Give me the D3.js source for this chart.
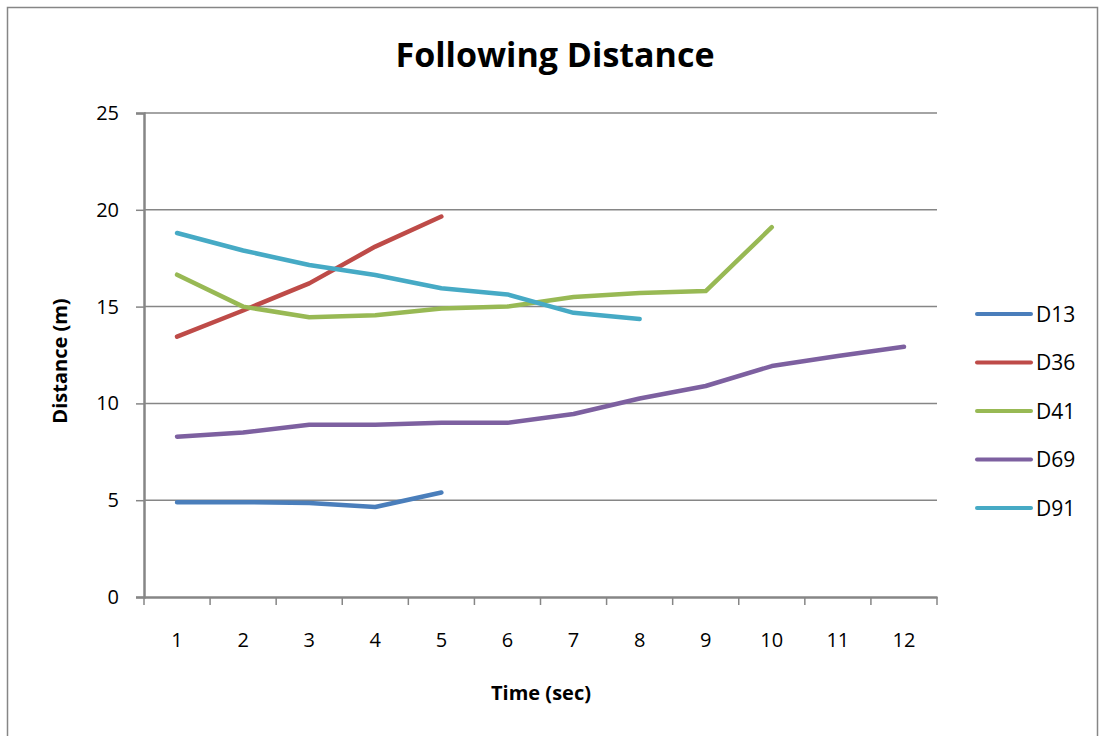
<!DOCTYPE html>
<html><head><meta charset="utf-8">
<script src="https://cdn.jsdelivr.net/npm/d3@7"></script>
<style>body{margin:0;background:#fff;} text{font-family:"Open Sans","Liberation Sans",sans-serif;}</style>
</head><body><svg id="c" width="1100" height="736"></svg>
<script>
const categories = ["1","2","3","4","5","6","7","8","9","10","11","12"];
const seriesNames = ["D13","D36","D41","D69","D91"];
const colors = ["#4a7ebb","#be4b48","#98b954","#7d60a0","#46aac5"];
const D13 = [4.9, 4.9, 4.85, 4.65, 5.4];
const D36 = [13.45, 14.8, 16.2, 18.1, 19.65];
const D41 = [16.65, 15.0, 14.45, 14.55, 14.9, 15.0, 15.5, 15.7, 15.8, 19.1];
const D69 = [8.28, 8.5, 8.9, 8.9, 9.0, 9.0, 9.45, 10.25, 10.9, 11.93, 12.45, 12.93];
const D91 = [18.8, 17.9, 17.15, 16.63, 15.95, 15.63, 14.68, 14.36];
const yTicks = [0, 5, 10, 15, 20, 25];
const seriesValues = [D13, D36, D41, D69, D91];

const svg = d3.select("#c");
const L = 144, R = 937, T = 113, B = 597;
const grey = "#868686";
const FF = '"Open Sans","Liberation Sans",sans-serif';

svg.append("rect").attr("x",7.5).attr("y",7.5).attr("width",1090).attr("height",740)
  .attr("fill","none").attr("stroke",grey).attr("stroke-width",1.5);

const x = d3.scaleBand().domain(categories).range([L, R]);
const y = d3.scaleLinear().domain([0, 25]).range([B, T]);

// gridlines
svg.append("g").selectAll("line").data(yTicks.filter(d=>d>0)).join("line")
  .attr("x1", L).attr("x2", R).attr("y1", d=>y(d)).attr("y2", d=>y(d))
  .attr("stroke", grey).attr("stroke-width", 1.5);

// y axis
const ya = svg.append("g").attr("transform",`translate(${L},0)`)
  .call(d3.axisLeft(y).tickValues(yTicks).tickSize(8).tickPadding(17));
ya.select(".domain").attr("stroke",grey).attr("stroke-width",2.5);
ya.selectAll(".tick line").attr("stroke",grey).attr("stroke-width",1.5);
ya.selectAll("text").attr("font-size",20).attr("fill","#000").style("font-family",FF);

// x axis
const xa = svg.append("g").attr("transform",`translate(0,${B})`)
  .call(d3.axisBottom(x).tickSize(0).tickPadding(36));
xa.select(".domain").attr("stroke",grey).attr("stroke-width",2.5);
xa.selectAll("text").attr("font-size",20).attr("fill","#000").style("font-family",FF);
// category boundary ticks
const bounds = categories.map(c=>x(c)).concat([R]);
svg.append("g").selectAll("line").data(bounds).join("line")
  .attr("x1",d=>d).attr("x2",d=>d).attr("y1",B).attr("y2",B+8)
  .attr("stroke",grey).attr("stroke-width",1.5);

// lines
const line = d3.line().x((d,i)=>x(categories[i]) + x.bandwidth()/2).y(d=>y(d));
svg.append("g").selectAll("path").data(seriesValues).join("path")
  .attr("d", d=>line(d)).attr("fill","none")
  .attr("stroke",(d,i)=>colors[i]).attr("stroke-width",4.5)
  .attr("stroke-linecap","round").attr("stroke-linejoin","round");

// title
svg.append("text").attr("x",555).attr("y",67).attr("text-anchor","middle")
  .attr("font-size",34).attr("font-weight","bold").attr("fill","#000").text("Following Distance");

// axis titles
svg.append("text").attr("x",541).attr("y",700).attr("text-anchor","middle")
  .attr("font-size",20).attr("font-weight","bold").attr("fill","#000").text("Time (sec)");
svg.append("text").attr("transform","translate(67,361) rotate(-90)").attr("text-anchor","middle")
  .attr("font-size",20).attr("font-weight","bold").attr("fill","#000").text("Distance  (m)");

// legend
const lg = svg.append("g").selectAll("g").data(seriesNames).join("g")
  .attr("transform",(d,i)=>`translate(977,${314 + i*48.5})`);
lg.append("line").attr("x1",0).attr("x2",54).attr("y1",0).attr("y2",0)
  .attr("stroke",(d,i)=>colors[i]).attr("stroke-width",4).attr("stroke-linecap","round");
lg.append("text").attr("x",59).attr("y",7.5).attr("font-size",21).attr("fill","#000").text(d=>d);
</script></body></html>
